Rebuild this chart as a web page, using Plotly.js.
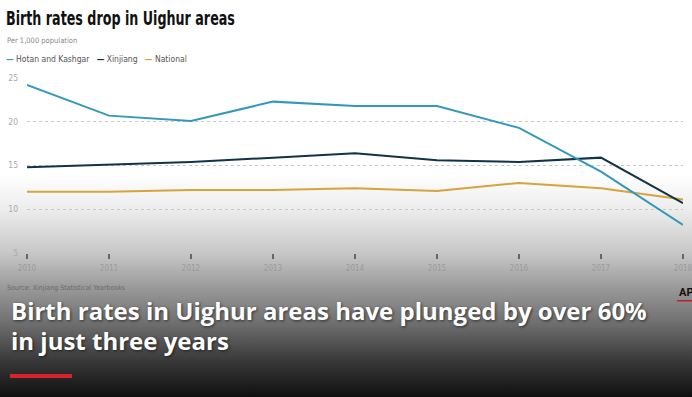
<!DOCTYPE html>
<html>
<head>
<meta charset="utf-8">
<script src="https://cdn.plot.ly/plotly-3.0.1.min.js"></script>
<style>
html,body{margin:0;padding:0;}
body{width:692px;height:397px;overflow:hidden;
background:linear-gradient(to bottom,#ffffff 0%,#ffffff 44%,#ececec 53%,#c6c6c6 64%,#9c9c9c 72%,#6c6c6c 82%,#383838 91%,#101010 100%);}
#chart{width:692px;height:397px;}
</style>
</head>
<body>
<div id="chart"></div>
<script>
const years = [2010, 2011, 2012, 2013, 2014, 2015, 2016, 2017, 2018];
const hotanKashgar = [24.2, 20.7, 20.1, 22.3, 21.8, 21.8, 19.3, 14.3, 8.2];
const xinjiang = [14.8, 15.1, 15.4, 15.9, 16.4, 15.6, 15.4, 15.9, 10.7];
const national = [12.0, 12.0, 12.2, 12.2, 12.4, 12.1, 13.0, 12.4, 11.1];
const seriesNames = ['Hotan and Kashgar', 'Xinjiang', 'National'];
const yTicks = [5, 10, 15, 20, 25];

const colors = ['#3399bb', '#123246', '#d6a43c'];

const W = 692, H = 397;
const M = {l: 27, r: 9, t: 78, b: 144};
const pw = W - M.l - M.r, ph = H - M.t - M.b;
const px = v => (v - M.l) / pw;
const py = v => (H - M.b - v) / ph;

const narrow = '"Liberation Sans Narrow", "DejaVu Sans Condensed", Roboto, sans-serif';

const traces = [hotanKashgar, xinjiang, national].map((vals, i) => ({
  x: years, y: vals, type: 'scatter', mode: 'lines', name: seriesNames[i],
  line: {color: colors[i], width: 2}, hoverinfo: 'skip'
}));
traces.reverse();

const capFont = {family: '"Open Sans", sans-serif', size: 24, color: '#ffffff', shadow: '1px 1px 3px rgba(0,0,0,0.6)'};

const annotations = [
  {text: '<b>Birth rates drop in Uighur areas</b>', x: px(4), y: py(18), xanchor: 'left', yanchor: 'middle',
   font: {family: narrow, size: 19, color: '#111'}},
  {text: 'Per 1,000 population', x: px(5), y: py(40), xanchor: 'left', yanchor: 'middle',
   font: {family: narrow, size: 7.5, color: '#888'}},
  {text: '<span style="color:' + colors[0] + '"><b>—</b></span> ' + seriesNames[0] +
         '   <span style="color:' + colors[1] + '"><b>—</b></span> ' + seriesNames[1] +
         '   <span style="color:' + colors[2] + '"><b>—</b></span> ' + seriesNames[2],
   x: px(4), y: py(59), xanchor: 'left', yanchor: 'middle',
   font: {family: narrow, size: 8.5, color: '#555'}},
  {text: 'Source: Xinjiang Statistical Yearbooks', x: px(5), y: py(288), xanchor: 'left', yanchor: 'middle',
   font: {family: narrow, size: 7, color: '#6a6a6a'}},
  {text: '<b>Birth rates in Uighur areas have plunged by over 60%</b>', x: px(9), y: py(310), xanchor: 'left', yanchor: 'middle',
   font: capFont},
  {text: '<b>in just three years</b>', x: px(9), y: py(340), xanchor: 'left', yanchor: 'middle',
   font: capFont},
  {text: '<b>AP</b>', x: px(677), y: py(292), xanchor: 'left', yanchor: 'middle',
   font: {family: 'Roboto, sans-serif', size: 11, color: '#111'}}
].map(a => Object.assign({xref: 'paper', yref: 'paper', showarrow: false, align: 'left'}, a));

const shapes = [
  {type: 'rect', xref: 'paper', yref: 'paper', x0: px(10), x1: px(72), y0: py(374), y1: py(378),
   fillcolor: '#d8222c', line: {width: 0}},
  {type: 'rect', xref: 'paper', yref: 'paper', x0: px(677), x1: px(692), y0: py(300), y1: py(301.5),
   fillcolor: '#c0202a', line: {width: 0}}
];

const layout = {
  width: W, height: H,
  margin: M,
  paper_bgcolor: 'rgba(0,0,0,0)', plot_bgcolor: 'rgba(0,0,0,0)',
  showlegend: false,
  xaxis: {
    range: [2010, 2018], tickvals: years, ticktext: years.map(String),
    showgrid: false, zeroline: false, showline: false,
    ticks: 'outside', ticklen: 5, tickwidth: 1.2, tickcolor: '#666',
    ticklabelstandoff: 2, ticklabeloverflow: 'allow',
    tickfont: {family: narrow, size: 8, color: '#9a9a9a'}
  },
  yaxis: {
    range: [5, 25], tickvals: yTicks, ticktext: yTicks.map(String),
    showgrid: true, gridcolor: '#c8c8c8', griddash: 'dot', gridwidth: 1,
    zeroline: false, showline: false, ticks: '',
    ticklabelstandoff: 8,
    tickfont: {family: narrow, size: 8.5, color: '#aaa'}
  },
  annotations: annotations,
  shapes: shapes
};

Plotly.newPlot('chart', traces, layout, {displayModeBar: false, staticPlot: true}).then(gd => {
  // condense the headline horizontally to match the narrow display face
  const t = gd.querySelector('.annotation[data-index="0"] text.annotation-text');
  if (t) {
    const bb = t.getBBox();
    const target = 229;
    if (bb.width > 0) {
      const s = target / bb.width;
      t.setAttribute('transform', 'translate(' + bb.x + ',0) scale(' + s + ',1) translate(' + (-bb.x) + ',0)');
    }
  }
});
</script>
</body>
</html>
